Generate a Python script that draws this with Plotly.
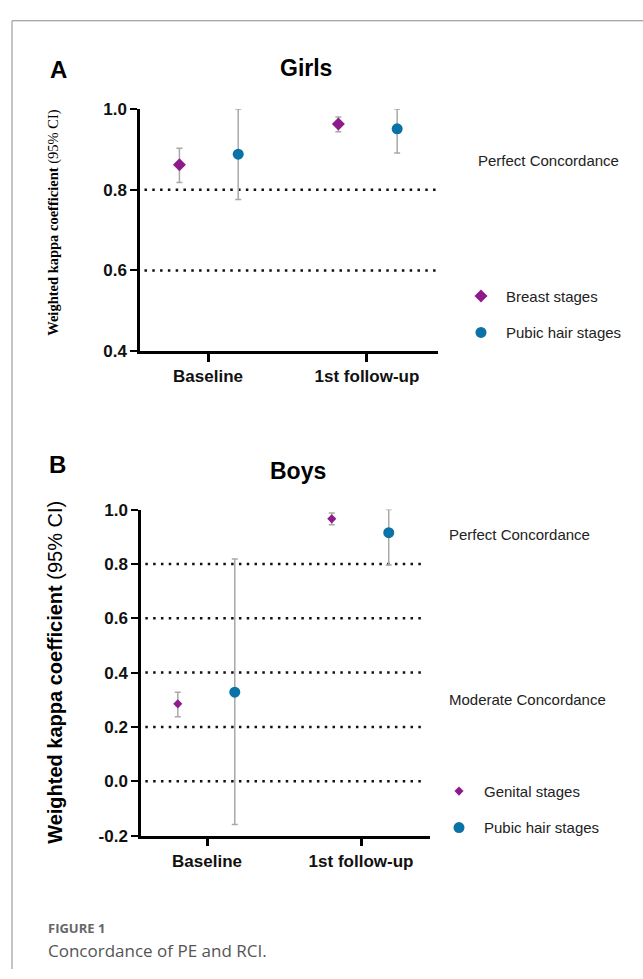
import plotly.graph_objects as go

W, H = 643, 979

categories = ["Baseline", "1st follow-up"]

# Panel A (Girls)
girls_breast = [0.862, 0.963]
girls_breast_lo = [0.818, 0.944]
girls_breast_hi = [0.903, 0.980]
girls_pubic = [0.888, 0.951]
girls_pubic_lo = [0.776, 0.891]
girls_pubic_hi = [1.000, 1.000]
girls_thresholds = [0.8, 0.6]
girls_yticks = [0.4, 0.6, 0.8, 1.0]
girls_yticklabels = ["0.4", "0.6", "0.8", "1.0"]

# Panel B (Boys)
boys_genital = [0.285, 0.966]
boys_genital_lo = [0.238, 0.944]
boys_genital_hi = [0.328, 0.987]
boys_pubic = [0.328, 0.915]
boys_pubic_lo = [-0.159, 0.796]
boys_pubic_hi = [0.818, 1.000]
boys_thresholds = [0.8, 0.6, 0.4, 0.2, 0.0]
boys_yticks = [-0.2, 0.0, 0.2, 0.4, 0.6, 0.8, 1.0]
boys_yticklabels = ["-0.2", "0.0", "0.2", "0.4", "0.6", "0.8", "1.0"]

PURPLE = "#8E1B8C"
BLUE = "#0A72A6"
GREY = "#A9A9A9"


def px(x):
    return x / W


def py(y):
    return 1 - y / H


pos = [1, 2]
offA = (-0.18, 0.19)
offB = (-0.19, 0.18)


def err(v, lo, hi):
    return dict(type="data", symmetric=False,
                array=[h - a for a, h in zip(v, hi)],
                arrayminus=[a - l for a, l in zip(v, lo)],
                color=GREY, thickness=1.5, width=3)


fig = go.Figure()

fig.add_trace(go.Scatter(
    x=[p + offA[0] for p in pos], y=girls_breast, mode="markers",
    name="Breast stages", legend="legend", legendgroup="a1",
    marker=dict(symbol="diamond", size=10, color=PURPLE),
    error_y=err(girls_breast, girls_breast_lo, girls_breast_hi),
    xaxis="x", yaxis="y"))
fig.add_trace(go.Scatter(
    x=[p + offA[1] for p in pos], y=girls_pubic, mode="markers",
    name="Pubic hair stages", legend="legend", legendgroup="a2",
    marker=dict(symbol="circle", size=11, color=BLUE),
    error_y=err(girls_pubic, girls_pubic_lo, girls_pubic_hi),
    xaxis="x", yaxis="y"))
fig.add_trace(go.Scatter(
    x=[p + offB[0] for p in pos], y=boys_genital, mode="markers",
    name="Genital stages", legend="legend2", legendgroup="b1",
    marker=dict(symbol="diamond", size=7, color=PURPLE),
    error_y=err(boys_genital, boys_genital_lo, boys_genital_hi),
    xaxis="x2", yaxis="y2"))
fig.add_trace(go.Scatter(
    x=[p + offB[1] for p in pos], y=boys_pubic, mode="markers",
    name="Pubic hair stages", legend="legend2", legendgroup="b2",
    marker=dict(symbol="circle", size=11, color=BLUE),
    error_y=err(boys_pubic, boys_pubic_lo, boys_pubic_hi),
    xaxis="x2", yaxis="y2"))

sans = "Liberation Sans, Arial"
tickfont = dict(family=sans, size=17, color="#111", weight="bold")
xtickfont = dict(family=sans, size=17, color="#111", weight="bold")

common_y = dict(showgrid=False, zeroline=False, showline=True, linecolor="#000",
                linewidth=2.5, ticks="outside", ticklen=7, tickwidth=2,
                tickcolor="#000", tickfont=tickfont)
common_x = dict(showgrid=False, zeroline=False, showline=True, linecolor="#000",
                linewidth=2.5, ticks="outside", ticklen=8, tickwidth=2.5,
                tickcolor="#000", tickvals=pos, ticktext=categories,
                tickfont=xtickfont)

fig.update_layout(
    width=W, height=H, margin=dict(l=0, r=0, t=0, b=0),
    paper_bgcolor="white", plot_bgcolor="white",
    xaxis=dict(domain=[px(140), px(438)], range=[0.572, 2.447], anchor="y", **common_x),
    yaxis=dict(domain=[py(349), py(102)], range=[0.4, 1.0], anchor="x",
               tickvals=girls_yticks, ticktext=girls_yticklabels, **common_y),
    xaxis2=dict(domain=[px(141), px(430)], range=[0.571, 2.448], anchor="y2", **common_x),
    yaxis2=dict(domain=[py(843), py(510.5)], range=[-0.2, 1.0], anchor="x2",
                tickvals=boys_yticks, ticktext=boys_yticklabels, **common_y),
    legend=dict(x=px(456), y=py(276), xanchor="left", yanchor="top",
                font=dict(family=sans, size=15, color="#222"), itemwidth=40,
                tracegroupgap=14, bgcolor="rgba(0,0,0,0)"),
    legend2=dict(x=px(434), y=py(781), xanchor="left", yanchor="top",
                 font=dict(family=sans, size=15, color="#222"), itemwidth=40,
                 tracegroupgap=14, bgcolor="rgba(0,0,0,0)"),
    showlegend=True,
)

shapes = []
for v in girls_thresholds:
    shapes.append(dict(type="line", xref="x domain", yref="y", x0=0.015, x1=1.0,
                       y0=v, y1=v, layer="below",
                       line=dict(color="#111", width=2.5, dash="2.5px,5.3px")))
for v in boys_thresholds:
    shapes.append(dict(type="line", xref="x2 domain", yref="y2", x0=0.015, x1=0.98,
                       y0=v, y1=v, layer="below",
                       line=dict(color="#111", width=2.5, dash="2.5px,5.3px")))
# card border
shapes.append(dict(type="line", xref="paper", yref="paper", x0=px(12), x1=1.0,
                   y0=py(12), y1=py(12), line=dict(color="#8a8a8a", width=1)))
shapes.append(dict(type="line", xref="paper", yref="paper", x0=px(12), x1=px(12),
                   y0=py(12), y1=0, line=dict(color="#8a8a8a", width=1)))
fig.update_layout(shapes=shapes)

ann = []
ann.append(dict(text="<b>A</b>", x=px(58), y=py(62), font=dict(family=sans, size=24, color="#000")))
ann.append(dict(text="<b>Girls</b>", x=px(306), y=py(60), font=dict(family=sans, size=23, color="#000")))
ann.append(dict(text="<b>Weighted kappa coefficient</b> (95% CI)", x=px(54), y=py(218), textangle=-90,
                font=dict(family="Liberation Serif, Times New Roman", size=14.5, color="#000")))
ann.append(dict(text="Perfect Concordance", x=px(476), y=py(155), xanchor="left",
                font=dict(family=sans, size=15, color="#222")))
ann.append(dict(text="<b>B</b>", x=px(57), y=py(465), font=dict(family=sans, size=24, color="#000")))
ann.append(dict(text="<b>Boys</b>", x=px(298), y=py(471), font=dict(family=sans, size=23, color="#000")))
ann.append(dict(text="<b>Weighted kappa coefficient</b> (95% CI)", x=px(55), y=py(677), textangle=-90,
                font=dict(family=sans, size=20, color="#000")))
ann.append(dict(text="Perfect Concordance", x=px(447), y=py(536), xanchor="left",
                font=dict(family=sans, size=15, color="#222")))
ann.append(dict(text="Moderate Concordance", x=px(447), y=py(704), xanchor="left",
                font=dict(family=sans, size=15, color="#222")))
ann.append(dict(text="<b>FIGURE 1</b>", x=px(46), y=py(937), xanchor="left",
                font=dict(family="Open Sans", size=13, color="#666")))
ann.append(dict(text="Concordance of PE and RCI.", x=px(46), y=py(960), xanchor="left",
                font=dict(family="Open Sans", size=17, color="#555")))
for a in ann:
    a.update(xref="paper", yref="paper", showarrow=False)
    a.setdefault("xanchor", "center")
    a.setdefault("yanchor", "middle")
fig.update_layout(annotations=ann)

fig.write_html("out.html", config={"displayModeBar": False},
               post_script="document.body.style.margin='0';document.body.style.overflow='hidden';")
